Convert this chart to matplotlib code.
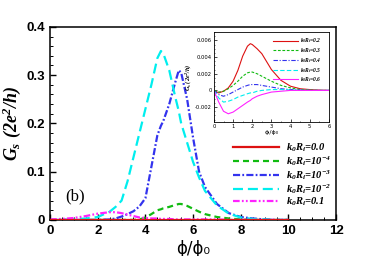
import matplotlib
matplotlib.use("Agg")
import matplotlib.pyplot as plt

plt.rcParams["mathtext.fontset"] = "custom"
plt.rcParams["mathtext.rm"] = "Liberation Serif:italic:bold"
plt.rcParams["mathtext.it"] = "Liberation Serif:italic:bold"
plt.rcParams["mathtext.bf"] = "Liberation Serif:italic:bold"

# main panel data: G_s vs phi/phi0 for several k0Ri
phi = [0, 0.5, 1, 1.5, 2, 2.5, 2.75, 3, 3.25, 3.5, 3.75, 4, 4.25, 4.5, 4.65, 4.75,
       5, 5.25, 5.4, 5.5, 5.75, 6, 6.25, 6.5, 7, 7.5, 8, 8.5, 9, 9.5, 10]
g_00 = [0] * len(phi)
g_1e4 = [0, 0, 0, 0, 0, 0, 0, 0, 0, 0, 0.001, 0.005, 0.012, 0.020, 0.022, 0.024,
         0.027, 0.031, 0.033, 0.033, 0.029, 0.023, 0.017, 0.012, 0.006, 0.003, 0.001, 0, 0, 0, 0]
g_1e3 = [0, 0, 0, 0, 0, 0.001, 0.003, 0.007, 0.012, 0.018, 0.028, 0.045, 0.11, 0.175, 0.195, 0.205,
         0.24, 0.285, 0.31, 0.305, 0.25, 0.17, 0.10, 0.068, 0.033, 0.014, 0.006, 0.003, 0.001, 0, 0]
g_1e2 = [0, 0, 0.001, 0.003, 0.006, 0.017, 0.027, 0.04, 0.08, 0.13, 0.18, 0.23, 0.28, 0.335, 0.35, 0.345,
         0.31, 0.255, 0.225, 0.20, 0.16, 0.12, 0.088, 0.06, 0.03, 0.013, 0.005, 0.002, 0.001, 0, 0]
g_01 = [0.001, 0.002, 0.004, 0.008, 0.013, 0.016, 0.016, 0.014, 0.011, 0.008, 0.005, 0.004, 0.003, 0.003,
        0.002, 0.002, 0.002, 0.001, 0.001, 0.001, 0.001, 0.001, 0.001, 0.001, 0.001, 0, 0, 0, 0, 0, 0]
main_labels = [r"$k_0R_i$=0.0", r"$k_0R_i$=10$^{-4}$", r"$k_0R_i$=10$^{-3}$",
               r"$k_0R_i$=10$^{-2}$", r"$k_0R_i$=0.1"]

# inset data
phi_in = [0, 0.25, 0.5, 0.75, 1, 1.25, 1.5, 1.75, 1.9, 2, 2.25, 2.5, 3, 3.5, 4, 4.5, 5, 5.5, 6]
g_02 = [0, -0.0003, -0.0001, 0.0003, 0.0011, 0.0024, 0.0041, 0.0053, 0.0056, 0.0055, 0.005, 0.0044,
        0.0025, 0.0012, 0.0005, 0.0002, 0.0001, 0.00004, 0]
g_03 = [0, -0.0002, -0.0001, 0.0002, 0.0006, 0.0011, 0.0017, 0.0021, 0.0022, 0.0022, 0.002, 0.0017,
        0.0011, 0.0006, 0.0003, 0.0001, 0.00005, 0, 0]
g_04 = [0, -0.0005, -0.0007, -0.0005, -0.0002, 0.0001, 0.0004, 0.0006, 0.0007, 0.0007, 0.0007, 0.0006,
        0.0004, 0.0002, 0.0001, 0.00005, 0, 0, 0]
g_05 = [0, -0.0009, -0.0014, -0.0013, -0.0011, -0.0008, -0.0006, -0.0004, -0.0003, -0.0003, -0.0001, 0,
        0.0001, 0.0001, 0.00005, 0, 0, 0, 0]
g_06 = [0, -0.0014, -0.0025, -0.0028, -0.0026, -0.0022, -0.0018, -0.0014, -0.0012, -0.001, -0.0007,
        -0.0005, -0.0002, -0.0001, 0, 0, 0, 0, 0]
inset_labels = [r"$k_0R_i$=0.2", r"$k_0R_i$=0.3", r"$k_0R_i$=0.4", r"$k_0R_i$=0.5", r"$k_0R_i$=0.6"]
inset_yticks = [-0.002, 0, 0.002, 0.004, 0.006]
inset_ytick_labels = ["-0.002", "0", "0.002", "0.004", "0.006"]

fig = plt.figure(figsize=(3.82, 2.56), dpi=100)
ax = fig.add_axes([0.131, 0.141, 0.749, 0.754])

lw = 1.6
ax.plot(phi, g_00, color="#dd1111", lw=lw, label=main_labels[0], zorder=3)
ax.plot(phi, g_1e4, color="#11bb11", lw=lw, dashes=(2.7, 1.8), label=main_labels[1])
ax.plot(phi, g_1e3, color="#3333ee", lw=lw, dashes=(3.2, 1, 0.8, 1), label=main_labels[2])
ax.plot(phi, g_1e2, color="#00eeee", lw=lw, dashes=(4.5, 2.2), label=main_labels[3])
ax.plot(phi, g_01, color="#ff22ff", lw=lw, dashes=(3, 1, 0.8, 1, 0.8, 1), label=main_labels[4])

ax.set_xlim(0, 12)
ax.set_ylim(0, 0.4)
ax.set_xticks([0, 2, 4, 6, 8, 10, 12])
ax.set_yticks([0, 0.1, 0.2, 0.3, 0.4])
ax.set_yticklabels(["0", "0.1", "0.2", "0.3", "0.4"])
ax.set_xticks([x * 0.5 for x in range(25)], minor=True)
ax.set_yticks([y * 0.02 for y in range(21)], minor=True)
ax.tick_params(which="both", direction="in", labelsize=9.5)
ax.tick_params(which="major", length=4, width=1)
ax.tick_params(which="minor", length=2, width=0.7)
for lab in ax.get_xticklabels() + ax.get_yticklabels():
    lab.set_fontweight("bold")
    lab.set_fontfamily("Liberation Sans")
for sp in ax.spines.values():
    sp.set_linewidth(1.1)

ax.set_xlabel("ϕ/ϕ₀", fontsize=12, labelpad=2)
ax.set_ylabel(r"$G_s\ (2e^2/h)$", fontsize=13)
ax.yaxis.set_label_coords(-0.094, 0.5)
ax.text(1.05, 0.048, "(b)", fontsize=12, family="Liberation Serif", ha="center", va="center")

ax.legend(loc="upper left", bbox_to_anchor=(0.64, 0.405), frameon=False, borderpad=0,
          borderaxespad=0, handlelength=4.3, handletextpad=0.7, labelspacing=0.0,
          prop={"family": "Liberation Serif", "weight": "bold", "style": "italic", "size": 7.6})

# inset
ins = fig.add_axes([0.560, 0.523, 0.301, 0.352])
ilw = 0.8
ins.plot(phi_in, g_02, color="#dd1111", lw=ilw, label=inset_labels[0])
ins.plot(phi_in, g_03, color="#11bb11", lw=ilw, dashes=(2.5, 1.5), label=inset_labels[1])
ins.plot(phi_in, g_04, color="#3333ee", lw=ilw, dashes=(4, 1.5, 1, 1.5), label=inset_labels[2])
ins.plot(phi_in, g_05, color="#00eeee", lw=ilw, dashes=(4, 2), label=inset_labels[3])
ins.plot(phi_in, g_06, color="#ff22ff", lw=ilw, label=inset_labels[4])
ins.set_xlim(0, 6)
ins.set_ylim(-0.0038, 0.007)
ins.set_xticks(range(7))
ins.set_xticks([x * 0.5 for x in range(13)], minor=True)
ins.set_yticks(inset_yticks)
ins.set_yticklabels(inset_ytick_labels)
ins.set_yticks([y * 0.0005 for y in range(-7, 15)], minor=True)
ins.tick_params(which="both", direction="in", labelsize=3.8, pad=1.5)
ins.tick_params(which="major", length=2, width=0.5)
ins.tick_params(which="minor", length=1, width=0.4)
for sp in ins.spines.values():
    sp.set_linewidth(0.6)
ins.set_xlabel("ϕᵢ/ϕ₀", fontsize=4.5, labelpad=0.5)
ins.set_ylabel(r"$G_s\ (2e^2/h)$", fontsize=4.5, labelpad=1)
ins.legend(loc="upper left", bbox_to_anchor=(0.51, 0.95), frameon=False, borderpad=0,
           borderaxespad=0, handlelength=4.5, handletextpad=0.5, labelspacing=0.15,
           prop={"family": "Liberation Serif", "weight": "bold", "style": "italic", "size": 4})

fig.savefig("out.png", dpi=100)
